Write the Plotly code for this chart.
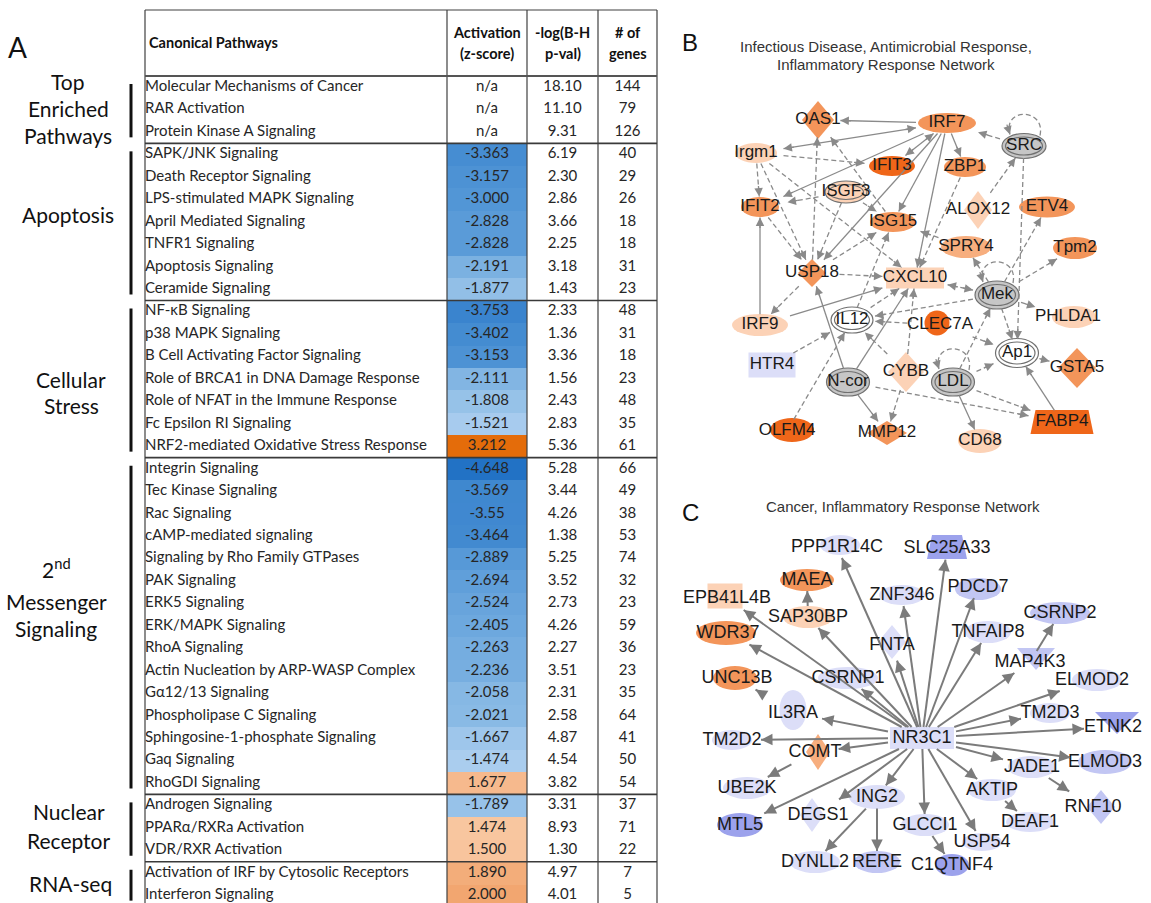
import math
import plotly.graph_objects as go

W, H = 1151, 903

# ---------------- Panel A: canonical pathway table ----------------
GROUP_LINES = [["Top", "Enriched", "Pathways"], ["Apoptosis"], ["Cellular", "Stress"],
               ["2<sup>nd</sup>", "Messenger", "Signaling"], ["Nuclear", "Receptor"], ["RNA-seq"]]
GROUP_SIZES = [3, 7, 7, 15, 3, 2]

PATHWAYS = [
    "Molecular Mechanisms of Cancer", "RAR Activation", "Protein Kinase A Signaling",
    "SAPK/JNK Signaling", "Death Receptor Signaling", "LPS-stimulated MAPK Signaling",
    "April Mediated Signaling", "TNFR1 Signaling", "Apoptosis Signaling", "Ceramide Signaling",
    "NF-κB Signaling", "p38 MAPK Signaling", "B Cell Activating Factor Signaling",
    "Role of BRCA1 in DNA Damage Response", "Role of NFAT in the Immune Response",
    "Fc Epsilon RI Signaling", "NRF2-mediated Oxidative Stress Response",
    "Integrin Signaling", "Tec Kinase Signaling", "Rac Signaling", "cAMP-mediated signaling",
    "Signaling by Rho Family GTPases", "PAK Signaling", "ERK5 Signaling", "ERK/MAPK Signaling",
    "RhoA Signaling", "Actin Nucleation by ARP-WASP Complex", "Gα12/13 Signaling",
    "Phospholipase C Signaling", "Sphingosine-1-phosphate Signaling", "Gaq Signaling",
    "RhoGDI Signaling", "Androgen Signaling", "PPARα/RXRa Activation", "VDR/RXR Activation",
    "Activation of IRF by Cytosolic Receptors", "Interferon Signaling",
]
ZSCORE = [
    "n/a", "n/a", "n/a",
    "-3.363", "-3.157", "-3.000", "-2.828", "-2.828", "-2.191", "-1.877",
    "-3.753", "-3.402", "-3.153", "-2.111", "-1.808", "-1.521", "3.212",
    "-4.648", "-3.569", "-3.55", "-3.464", "-2.889", "-2.694", "-2.524", "-2.405",
    "-2.263", "-2.236", "-2.058", "-2.021", "-1.667", "-1.474", "1.677",
    "-1.789", "1.474", "1.500",
    "1.890", "2.000",
]
NEGLOG_P = [
    "18.10", "11.10", "9.31",
    "6.19", "2.30", "2.86", "3.66", "2.25", "3.18", "1.43",
    "2.33", "1.36", "3.36", "1.56", "2.43", "2.83", "5.36",
    "5.28", "3.44", "4.26", "1.38", "5.25", "3.52", "2.73", "4.26",
    "2.27", "3.51", "2.31", "2.58", "4.87", "4.54", "3.82",
    "3.31", "8.93", "1.30",
    "4.97", "4.01",
]
N_GENES = [
    144, 79, 126,
    40, 29, 26, 18, 18, 31, 23,
    48, 31, 18, 23, 48, 35, 61,
    66, 49, 38, 53, 74, 32, 23, 59, 36, 23, 35, 64, 41, 50, 54,
    37, 71, 22,
    7, 5,
]

# ---------------- Panel B: infectious disease network ----------------
# regulation: 1..4 increasing up-regulation, -1 down, 0 measured/unchanged, None not measured
B_GENES = ["OAS1", "IRF7", "SRC", "Irgm1", "IFIT3", "ZBP1", "ISGF3", "ALOX12", "ETV4", "IFIT2",
           "ISG15", "SPRY4", "Tpm2", "USP18", "CXCL10", "Mek", "IRF9", "IL12", "CLEC7A", "PHLDA1",
           "HTR4", "Ap1", "GSTA5", "N-cor", "CYBB", "LDL", "FABP4", "OLFM4", "MMP12", "CD68"]
B_REG = [3, 3, 0, 1, 4, 3, 1, 1, 3, 3,
         3, 2, 3, 3, 1, 0, 1, None, 4, 1,
         -1, None, 3, 0, 1, 0, 4, 4, 3, 1]
B_EDGES = [
    ("IRF7", "OAS1", "s"), ("Irgm1", "IRF7", "sb"), ("IRF7", "IFIT2", "s"), ("IRF7", "IFIT3", "sb"),
    ("IRF7", "ZBP1", "s"), ("IRF7", "ISG15", "s"), ("IRF7", "CXCL10", "s"), ("IRF7", "USP18", "s"),
    ("SRC", "IRF7", "d"), ("ALOX12", "SRC", "d"), ("Irgm1", "IFIT3", "d"), ("Irgm1", "IFIT2", "d"),
    ("Irgm1", "USP18", "d"), ("Irgm1", "CXCL10", "d"), ("ISGF3", "IFIT2", "d"), ("ISGF3", "ISG15", "d"),
    ("ISGF3", "USP18", "d"), ("USP18", "OAS1", "d"), ("ISG15", "OAS1", "d"), ("IRF9", "IFIT2", "s"),
    ("IFIT2", "USP18", "d"), ("USP18", "CXCL10", "d"), ("USP18", "IRF9", "d"), ("USP18", "ISG15", "d"),
    ("IRF9", "CXCL10", "s"), ("IL12", "CXCL10", "d"), ("IL12", "ISG15", "d"), ("ZBP1", "CXCL10", "d"),
    ("Mek", "CXCL10", "db"), ("Mek", "SPRY4", "d"), ("Mek", "Tpm2", "d"), ("Mek", "PHLDA1", "d"),
    ("Mek", "Ap1", "d"), ("Mek", "IL12", "d"), ("Mek", "ETV4", "d"), ("SRC", "Ap1", "d"),
    ("SPRY4", "ISG15", "d"), ("CLEC7A", "IL12", "d"), ("CLEC7A", "Ap1", "d"), ("HTR4", "IL12", "d"),
    ("OLFM4", "IL12", "d"), ("N-cor", "USP18", "s"), ("N-cor", "CXCL10", "s"), ("N-cor", "MMP12", "s"),
    ("N-cor", "FABP4", "d"), ("CYBB", "IL12", "d"), ("CYBB", "CXCL10", "d"), ("CYBB", "MMP12", "d"),
    ("LDL", "Mek", "d"), ("LDL", "Ap1", "d"), ("LDL", "FABP4", "d"), ("LDL", "CD68", "s"),
    ("FABP4", "Ap1", "s"), ("Ap1", "GSTA5", "d"),
]
B_LOOPS = ["SRC", "Mek", "LDL"]

# ---------------- Panel C: cancer / inflammatory response network ----------------
C_GENES = ["NR3C1", "PPP1R14C", "SLC25A33", "MAEA", "EPB41L4B", "ZNF346", "PDCD7", "SAP30BP",
           "CSRNP2", "WDR37", "TNFAIP8", "FNTA", "MAP4K3", "UNC13B", "CSRNP1", "ELMOD2", "IL3RA",
           "TM2D3", "ETNK2", "TM2D2", "COMT", "ELMOD3", "JADE1", "UBE2K", "AKTIP", "ING2", "RNF10",
           "DEGS1", "MTL5", "DEAF1", "GLCCI1", "USP54", "DYNLL2", "RERE", "C1QTNF4"]
C_REG = [-1, -1, -3, 3, 1, -1, -2, 1,
         -2, 3, -1, -1, -2, 3, -1, -1, -1,
         -1, -3, -1, 2, -2, -1, -1, -1, -1, -2,
         -1, -3, -1, -1, -1, -1, -2, -3]
C_EDGES = [("NR3C1", t) for t in
           ["PPP1R14C", "SLC25A33", "EPB41L4B", "ZNF346", "PDCD7", "SAP30BP", "TNFAIP8", "WDR37",
            "FNTA", "MAP4K3", "CSRNP1", "ELMOD2", "IL3RA", "TM2D3", "ETNK2", "TM2D2", "COMT",
            "ELMOD3", "JADE1", "AKTIP", "ING2", "MTL5", "GLCCI1", "USP54", "DEGS1"]] + [
    ("MAP4K3", "CSRNP2"), ("JADE1", "RNF10"), ("AKTIP", "DEAF1"), ("GLCCI1", "C1QTNF4"),
    ("ING2", "DYNLL2"), ("ING2", "RERE"), ("COMT", "UBE2K"), ("SAP30BP", "MAEA"), ("IL3RA", "UNC13B"),
]

# ---------------- layout of the drawing ----------------
TX_L, TX_Z, TX_P, TX_N, TX_R = 145, 447, 527, 598, 657
TY_TOP, TY_HEAD, ROW_H = 10, 76, 22.45
GROUP_LABEL_X = [68, 68, 71, 56, 69, 70]
GROUP_LABEL_Y = [[81, 108, 135], [214], [379, 405], [568, 601, 628], [811, 840], [883]]

B_POS = {"OAS1": (818, 120), "IRF7": (947, 123), "SRC": (1024, 146), "Irgm1": (756, 153),
         "IFIT3": (892, 166), "ZBP1": (965, 167), "ISGF3": (846, 192), "ALOX12": (978, 210),
         "ETV4": (1047, 207), "IFIT2": (760, 207), "ISG15": (893, 222), "SPRY4": (966, 247),
         "Tpm2": (1075, 248), "USP18": (812, 273), "CXCL10": (915, 278), "Mek": (997, 295),
         "IRF9": (760, 325), "IL12": (852, 320), "CLEC7A": (940, 325), "PHLDA1": (1068, 317),
         "HTR4": (772, 365), "Ap1": (1017, 353), "GSTA5": (1077, 368), "N-cor": (848, 382),
         "CYBB": (906, 372), "LDL": (953, 382), "FABP4": (1062, 422), "OLFM4": (787, 431),
         "MMP12": (887, 433), "CD68": (980, 441)}
B_GLYPH = {"OAS1": ("diamond", 32, 38), "IRF7": ("ellipse", 58, 20), "SRC": ("double", 44, 25),
           "Irgm1": ("ellipse", 42, 20), "IFIT3": ("ellipse", 46, 20), "ZBP1": ("ellipse", 42, 20),
           "ISGF3": ("double", 42, 22), "ALOX12": ("diamond", 28, 38), "ETV4": ("ellipse", 56, 21),
           "IFIT2": ("ellipse", 38, 20), "ISG15": ("ellipse", 46, 20), "SPRY4": ("ellipse", 50, 22),
           "Tpm2": ("ellipse", 44, 22), "USP18": ("diamond", 28, 28), "CXCL10": ("rect", 58, 21),
           "Mek": ("double", 44, 28), "IRF9": ("ellipse", 56, 22), "IL12": ("double", 42, 26),
           "CLEC7A": ("ellipse", 25, 25, -3, -2), "PHLDA1": ("ellipse", 44, 22, 6, 0),
           "HTR4": ("rect", 47, 25), "Ap1": ("double", 43, 29), "GSTA5": ("diamond", 38, 40),
           "N-cor": ("double", 43, 28), "CYBB": ("diamond", 36, 40), "LDL": ("double", 43, 28),
           "FABP4": ("trap", 63, 24), "OLFM4": ("ellipse", 44, 24, 5, -1),
           "MMP12": ("diamond", 40, 24), "CD68": ("ellipse", 44, 24)}

C_POS = {"NR3C1": (922, 738), "PPP1R14C": (837, 547), "SLC25A33": (947, 548), "MAEA": (807, 580),
         "EPB41L4B": (727, 598), "ZNF346": (902, 595), "PDCD7": (978, 587), "SAP30BP": (808, 617),
         "CSRNP2": (1060, 613), "WDR37": (728, 633), "TNFAIP8": (988, 632), "FNTA": (892, 645),
         "MAP4K3": (1030, 662), "UNC13B": (737, 678), "CSRNP1": (848, 678), "ELMOD2": (1092, 680),
         "IL3RA": (793, 713), "TM2D3": (1050, 713), "ETNK2": (1113, 727), "TM2D2": (732, 740),
         "COMT": (815, 752), "ELMOD3": (1105, 762), "JADE1": (1032, 767), "UBE2K": (747, 788),
         "AKTIP": (992, 790), "ING2": (877, 797), "RNF10": (1093, 807), "DEGS1": (818, 815),
         "MTL5": (740, 825), "DEAF1": (1030, 822), "GLCCI1": (925, 825), "USP54": (982, 842),
         "DYNLL2": (815, 862), "RERE": (877, 862), "C1QTNF4": (952, 865)}
C_GLYPH = {"NR3C1": ("rect", 64, 22), "PPP1R14C": ("ellipse", 40, 20, 3, -2),
           "SLC25A33": ("trap", 40, 24, 0, -1), "MAEA": ("ellipse", 54, 22),
           "EPB41L4B": ("rect", 35, 25, -2, -2), "ZNF346": ("ellipse", 46, 20),
           "PDCD7": ("ellipse", 46, 22, 0, 2), "SAP30BP": ("ellipse", 50, 22),
           "CSRNP2": ("ellipse", 60, 22), "WDR37": ("ellipse", 60, 24, -2, 0),
           "TNFAIP8": ("ellipse", 46, 22), "FNTA": ("diamond", 28, 34, 0, -3),
           "MAP4K3": ("tri", 38, 22, 6, -3), "UNC13B": ("ellipse", 44, 24, -2, 0),
           "CSRNP1": ("ellipse", 60, 22), "ELMOD2": ("ellipse", 50, 22, 5, 0),
           "IL3RA": ("ellipse", 27, 40, 0, -3), "TM2D3": ("ellipse", 40, 20),
           "ETNK2": ("tri", 44, 22, 4, -4), "TM2D2": ("ellipse", 40, 20),
           "COMT": ("diamond", 24, 36, 3, 0), "ELMOD3": ("ellipse", 54, 24),
           "JADE1": ("ellipse", 48, 22), "UBE2K": ("ellipse", 48, 22), "AKTIP": ("ellipse", 48, 22),
           "ING2": ("ellipse", 56, 24), "RNF10": ("diamond", 28, 34, 8, 0),
           "DEGS1": ("diamond", 24, 34, -6, 0), "MTL5": ("ellipse", 46, 24),
           "DEAF1": ("ellipse", 48, 20), "GLCCI1": ("ellipse", 48, 22), "USP54": ("ellipse", 40, 18),
           "DYNLL2": ("ellipse", 50, 22), "RERE": ("ellipse", 46, 22), "C1QTNF4": ("ellipse", 34, 22)}

UP_COL = {1: "#fcd2b6", 2: "#f7ae7e", 3: "#f3955a", 4: "#ef6619"}
DOWN_COL = {-1: "#dcdef8", -2: "#c2c6f3", -3: "#9ca2ec"}
GRAY_COL, NODE_LINE = "#c6c6c6", "#707070"
TXT = "#262626"
NET_FONT = "Liberation Sans"
TAB_FONT = "Lato"

fig = go.Figure()
shapes, annotations = [], []


def hline(x0, x1, y, w=1.2, c="#404040"):
    shapes.append(dict(type="line", x0=x0, x1=x1, y0=y, y1=y, xref="x", yref="y",
                       line=dict(color=c, width=w), layer="above"))


def vline(x, y0, y1, w=1.2, c="#404040"):
    shapes.append(dict(type="line", x0=x, x1=x, y0=y0, y1=y1, xref="x", yref="y",
                       line=dict(color=c, width=w), layer="above"))


# ---- table: activation colour column ----
n_rows = len(PATHWAYS)
row_edges = [TY_HEAD + i * ROW_H for i in range(n_rows + 1)]
row_mid = [TY_HEAD + (i + 0.5) * ROW_H for i in range(n_rows)]
z_vals = [None if s == "n/a" else float(s) for s in ZSCORE]
act_scale = [[0.0, "#1767be"], [0.035, "#2272c5"], [0.15, "#4189d0"], [0.2, "#5296d6"],
             [0.27, "#72abdf"], [0.30, "#8bbbe5"], [0.35, "#a8ccee"], [0.5, "#ffffff"],
             [0.64, "#f9caa6"], [0.70, "#f2a670"], [0.82, "#e46c0a"], [1.0, "#d45f00"]]
fig.add_trace(go.Heatmap(z=[[v] for v in z_vals], x=[TX_Z, TX_P], y=row_edges,
                         colorscale=act_scale, zmin=-5, zmax=5, showscale=False,
                         hoverinfo="skip"))

# table text
cell_font = dict(family=TAB_FONT, size=15, color=TXT)
fig.add_trace(go.Scatter(x=[TX_L] * n_rows, y=row_mid, mode="text", text=PATHWAYS,
                         textposition="middle right", textfont=cell_font, hoverinfo="skip"))
fig.add_trace(go.Scatter(x=[(TX_Z + TX_P) / 2] * n_rows, y=row_mid, mode="text", text=ZSCORE,
                         textfont=cell_font, hoverinfo="skip"))
fig.add_trace(go.Scatter(x=[(TX_P + TX_N) / 2] * n_rows, y=row_mid, mode="text", text=NEGLOG_P,
                         textfont=cell_font, hoverinfo="skip"))
fig.add_trace(go.Scatter(x=[(TX_N + TX_R) / 2] * n_rows, y=row_mid, mode="text",
                         text=[str(n) for n in N_GENES], textfont=cell_font, hoverinfo="skip"))

# header
hdr_font = dict(family=TAB_FONT, size=14.5, color="#111111")
annotations.append(dict(x=TX_L + 2, y=42, text="<b>Canonical Pathways</b>", showarrow=False,
                        xanchor="left", font=hdr_font))
for xc, (l1, l2) in zip([(TX_Z + TX_P) / 2, (TX_P + TX_N) / 2, (TX_N + TX_R) / 2],
                        [("Activation", "(z-score)"), ("-log(B-H", "p-val)"), ("# of", "genes")]):
    annotations.append(dict(x=xc, y=32, text=f"<b>{l1}</b>", showarrow=False, font=hdr_font))
    annotations.append(dict(x=xc, y=53, text=f"<b>{l2}</b>", showarrow=False, font=hdr_font))

# grid lines
for x in [TX_L, TX_Z, TX_P, TX_N, TX_R]:
    vline(x, TY_TOP, H + 5)
hline(TX_L, TX_R, TY_TOP)
hline(TX_L, TX_R, TY_HEAD, w=2.2, c="#555555")
acc = 0
bounds = []
for gs in GROUP_SIZES:
    top = TY_HEAD + acc * ROW_H
    acc += gs
    bot = TY_HEAD + acc * ROW_H
    bounds.append((top, bot))
    if acc < n_rows:
        hline(TX_L, TX_R, bot, w=1.6, c="#3a3a3a")

# group labels and brackets
for (top, bot), lines, lx, lys in zip(bounds, GROUP_LINES, GROUP_LABEL_X, GROUP_LABEL_Y):
    shapes.append(dict(type="line", x0=131, x1=131, y0=top + 8, y1=min(bot - 6, H + 5),
                       xref="x", yref="y", line=dict(color="#111111", width=3)))
    for t, ly in zip(lines, lys):
        annotations.append(dict(x=lx, y=ly, text=t, showarrow=False,
                                font=dict(family=TAB_FONT, size=21, color="#111111")))

annotations.append(dict(x=17, y=47, text="A", showarrow=False,
                        font=dict(family=TAB_FONT, size=28, color="#111111")))


# ---------------- network drawing helpers ----------------
def node_fill(reg):
    if reg is None:
        return "#ffffff"
    if reg == 0:
        return GRAY_COL
    return UP_COL[reg] if reg > 0 else DOWN_COL[reg]


def add_glyph(cx, cy, g, fill):
    kind, w, h = g[0], g[1], g[2]
    dx, dy = (g[3], g[4]) if len(g) > 3 else (0, 0)
    cx, cy = cx + dx, cy + dy
    base = dict(xref="x", yref="y", fillcolor=fill, layer="below")
    if kind in ("ellipse", "double"):
        ln = dict(color=NODE_LINE, width=1.2) if kind == "double" else dict(width=0)
        shapes.append(dict(type="circle", x0=cx - w / 2, x1=cx + w / 2, y0=cy - h / 2,
                           y1=cy + h / 2, line=ln, **base))
        if kind == "double":
            shapes.append(dict(type="circle", x0=cx - w / 2 + 3.5, x1=cx + w / 2 - 3.5,
                               y0=cy - h / 2 + 3.5, y1=cy + h / 2 - 3.5, xref="x", yref="y",
                               line=dict(color=NODE_LINE, width=1.2), layer="below"))
        return
    if kind == "rect":
        path = f"M{cx-w/2},{cy-h/2} H{cx+w/2} V{cy+h/2} H{cx-w/2} Z"
    elif kind == "diamond":
        path = f"M{cx},{cy-h/2} L{cx+w/2},{cy} L{cx},{cy+h/2} L{cx-w/2},{cy} Z"
    elif kind == "trap":
        path = (f"M{cx-w/2+5},{cy-h/2} L{cx+w/2-5},{cy-h/2} L{cx+w/2},{cy+h/2} "
                f"L{cx-w/2},{cy+h/2} Z")
    else:  # downward triangle
        path = f"M{cx-w/2},{cy-h/2} L{cx+w/2},{cy-h/2} L{cx},{cy+h/2} Z"
    shapes.append(dict(type="path", path=path, line=dict(width=0), **base))


def half_box(name, g, fs):
    tw = 0.6 * fs * len(name)
    return max(g[1], tw) / 2 + 2, max(g[2] * 0.8, fs) / 2 + 2


def clip(cx, cy, a, b, ux, uy):
    t = min(a / abs(ux) if abs(ux) > 1e-9 else 1e9, b / abs(uy) if abs(uy) > 1e-9 else 1e9)
    return cx + ux * t, cy + uy * t


def head(x, y, ux, uy, color, width, size):
    annotations.append(dict(x=x, y=y, ax=x - ux * 12, ay=y - uy * 12, xref="x", yref="y",
                            axref="x", ayref="y", text="", showarrow=True, arrowhead=2,
                            arrowsize=size, arrowwidth=width, arrowcolor=color, standoff=0))


def draw_network(genes, regs, pos, glyph, edges, fs, color, width, hsize):
    for gname, reg in zip(genes, regs):
        add_glyph(*pos[gname], glyph[gname], node_fill(reg))
    solid_x, solid_y, dash_x, dash_y = [], [], [], []
    for e in edges:
        s, t = e[0], e[1]
        style = e[2] if len(e) > 2 else "s"
        (sx, sy), (tx, ty) = pos[s], pos[t]
        d = math.hypot(tx - sx, ty - sy)
        ux, uy = (tx - sx) / d, (ty - sy) / d
        a1, b1 = half_box(s, glyph[s], fs)
        a2, b2 = half_box(t, glyph[t], fs)
        p0 = clip(sx, sy, a1, b1, ux, uy)
        p1 = clip(tx, ty, a2, b2, -ux, -uy)
        xs, ys = (dash_x, dash_y) if style.startswith("d") else (solid_x, solid_y)
        xs += [p0[0], p1[0], None]
        ys += [p0[1], p1[1], None]
        head(p1[0], p1[1], ux, uy, color, width, hsize)
        if style.endswith("b"):
            head(p0[0], p0[1], -ux, -uy, color, width, hsize)
    fig.add_trace(go.Scatter(x=solid_x, y=solid_y, mode="lines", hoverinfo="skip",
                             line=dict(color=color, width=width)))
    if dash_x:
        fig.add_trace(go.Scatter(x=dash_x, y=dash_y, mode="lines", hoverinfo="skip",
                                 line=dict(color=color, width=width, dash="5px,3px")))
    fig.add_trace(go.Scatter(x=[pos[g][0] for g in genes], y=[pos[g][1] for g in genes],
                             mode="text", text=genes, hoverinfo="skip",
                             textfont=dict(family=NET_FONT, size=fs, color="#1a1a1a")))


# ---- panel B ----
EDGE_B = "#8a8a8a"
draw_network(B_GENES, B_REG, B_POS, B_GLYPH, B_EDGES, 17, EDGE_B, 1.3, 1.3)
for gname in B_LOOPS:
    cx, cy = B_POS[gname]
    top = cy - B_GLYPH[gname][2] / 2
    shapes.append(dict(type="path", xref="x", yref="y", layer="below",
                       path=f"M{cx+16},{top+2} C{cx+22},{top-26} {cx-22},{top-26} {cx-14},{top+1}",
                       line=dict(color=EDGE_B, width=1.3, dash="5px,3px")))
    head(cx - 14, top + 1, 0.3, 0.95, EDGE_B, 1.3, 1.3)

title_font = dict(family=NET_FONT, size=15, color="#333333")
annotations.append(dict(x=690, y=42, text="B", showarrow=False,
                        font=dict(family=NET_FONT, size=24, color="#111111")))
annotations.append(dict(x=886, y=46, text="Infectious Disease, Antimicrobial Response,",
                        showarrow=False, font=title_font))
annotations.append(dict(x=886, y=64, text="Inflammatory Response Network",
                        showarrow=False, font=title_font))

# ---- panel C ----
draw_network(C_GENES, C_REG, C_POS, C_GLYPH, C_EDGES, 18, "#7b7b7b", 2, 1.15)
annotations.append(dict(x=690, y=512, text="C", showarrow=False,
                        font=dict(family=NET_FONT, size=24, color="#111111")))
annotations.append(dict(x=903, y=506, text="Cancer, Inflammatory Response Network",
                        showarrow=False, font=title_font))

fig.update_layout(
    width=W, height=H, margin=dict(l=0, r=0, t=0, b=0),
    paper_bgcolor="white", plot_bgcolor="white", showlegend=False,
    xaxis=dict(range=[0, W], visible=False, fixedrange=True),
    yaxis=dict(range=[H, 0], visible=False, fixedrange=True),
    shapes=shapes, annotations=annotations,
)
fig.write_html("out.html")
